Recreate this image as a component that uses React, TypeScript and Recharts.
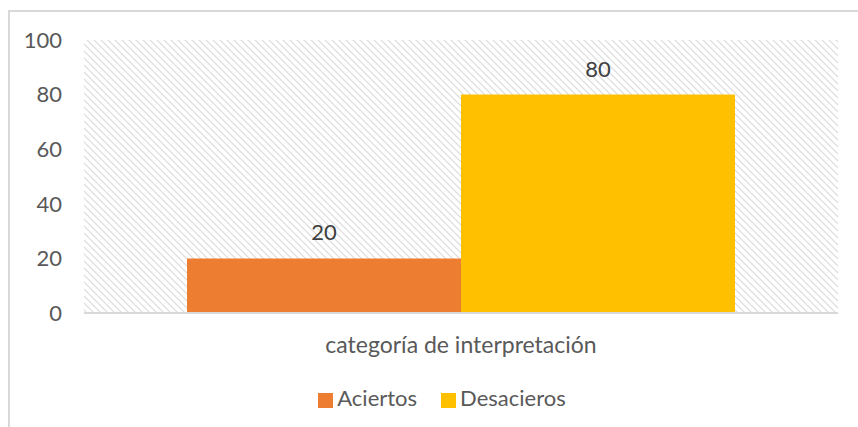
import React from "react";
import { BarChart, Bar, XAxis, YAxis, CartesianGrid, Legend, LabelList } from "recharts";

const categories = ["categoría de interpretación"];
const aciertos = [20];
const desacieros = [80];
const yTicks = [0, 20, 40, 60, 80, 100];

const data = categories.map((c, i) => ({ name: c, Aciertos: aciertos[i], Desacieros: desacieros[i] }));

const FONT = "Lato, 'Open Sans', sans-serif";
const FS = 22;

export default function App() {
  return (
    <div
      style={{
        position: "fixed",
        left: 8,
        top: 10,
        width: 900,
        height: 500,
        borderTop: "2px solid #d9d9d9",
        borderLeft: "2px solid #d9d9d9",
        background: "#fff",
      }}
    >
      <BarChart
        width={848}
        height={415}
        data={data}
        margin={{ top: 28, right: 20, left: 14, bottom: 24 }}
        barCategoryGap={103}
        barGap={0}
      >
        <defs>
          <pattern id="hatch" patternUnits="userSpaceOnUse" width="7" height="7">
            <path d="M-1,-1 L8,8 M-1,6 L1,8 M6,-1 L8,1" stroke="#dadada" strokeWidth="1.2" />
          </pattern>
        </defs>
        <CartesianGrid fill="url(#hatch)" horizontal={false} vertical={false} stroke="none" />
        <XAxis
          dataKey="name"
          axisLine={{ stroke: "#d9d9d9", strokeWidth: 2 }}
          tickLine={false}
          tickSize={0}
          tickMargin={24}
          height={50}
          tick={{ fill: "#595959", fontSize: 23, fontFamily: FONT }}
        />
        <YAxis
          domain={[0, 100]}
          ticks={yTicks}
          axisLine={false}
          tickLine={false}
          tickSize={0}
          tickMargin={22}
          width={60}
          tick={{ fill: "#595959", fontSize: FS, fontFamily: FONT }}
        />
        <Legend
          verticalAlign="bottom"
          height={40}
          iconType="square"
          iconSize={15}
          wrapperStyle={{ top: 372, bottom: "auto", left: 37, fontFamily: FONT, fontSize: FS }}
          formatter={(v: string) => <span style={{ color: "#595959", marginRight: 14 }}>{v}</span>}
        />
        <Bar dataKey="Aciertos" fill="#ED7D31" isAnimationActive={false}>
          <LabelList dataKey="Aciertos" position="top" offset={18} fill="#404040" fontSize={FS} fontFamily={FONT} />
        </Bar>
        <Bar dataKey="Desacieros" fill="#FFC000" isAnimationActive={false}>
          <LabelList dataKey="Desacieros" position="top" offset={18} fill="#404040" fontSize={FS} fontFamily={FONT} />
        </Bar>
      </BarChart>
    </div>
  );
}
